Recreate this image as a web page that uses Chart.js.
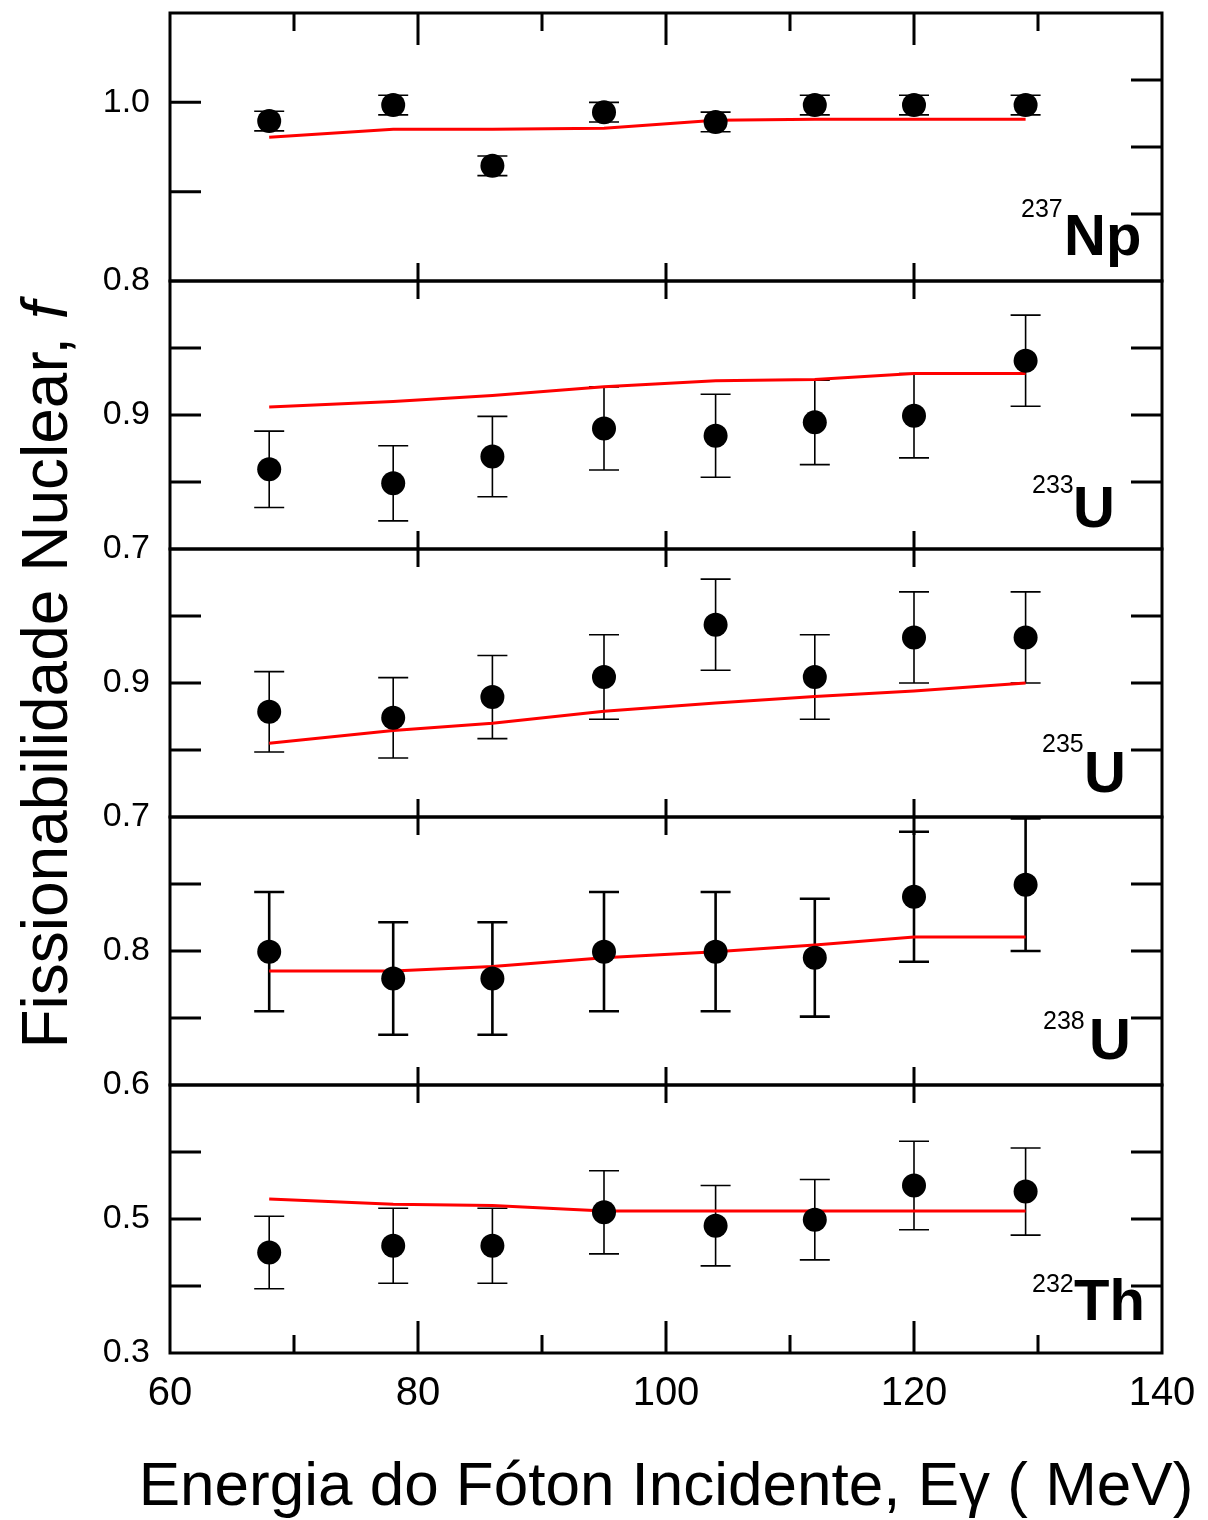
<!DOCTYPE html>
<html>
<head>
<meta charset="utf-8">
<script src="https://cdn.jsdelivr.net/npm/chart.js@4.4.0/dist/chart.umd.min.js"></script>
<style>
  html, body { margin:0; padding:0; background:#fff; }
  #wrap { position:relative; width:1208px; height:1520px; overflow:hidden;
          font-family:"Liberation Sans", Arial, sans-serif; color:#000; }
  #wrap canvas { position:absolute; left:0; }
  .tag { position:absolute; white-space:nowrap; line-height:1; z-index:5; }
  .num { font-size:25px; }
  .sym { font-size:58px; font-weight:bold; }
  #xTitle { position:absolute; left:666px; top:1453px; transform:translateX(-50%);
            font-size:62px; line-height:1; white-space:nowrap; }
  #yTitle { position:absolute; left:-405px; top:643px; width:900px; height:64px;
            text-align:center; font-size:64px; line-height:1; white-space:nowrap;
            transform:rotate(-90deg); }
</style>
</head>
<body>
<div id="wrap">
  <div id="yTitle">Fissionabilidade Nuclear, <i>f</i></div>
  <div id="xTitle">Energia do Fóton Incidente, Eγ ( MeV)</div>

  <div class="tag num" style="left:1021px;top:196px">237</div><div class="tag sym" style="left:1064px;top:206px">Np</div>
  <div class="tag num" style="left:1032px;top:472px">233</div><div class="tag sym" style="left:1073px;top:478px">U</div>
  <div class="tag num" style="left:1042px;top:731px">235</div><div class="tag sym" style="left:1084px;top:743px">U</div>
  <div class="tag num" style="left:1043px;top:1008px">238</div><div class="tag sym" style="left:1089px;top:1010px">U</div>
  <div class="tag num" style="left:1032px;top:1271px">232</div><div class="tag sym" style="left:1074px;top:1271px">Th</div>
</div>
<script>
// ---------- DATA ----------
const energies = [68, 78, 86, 95, 104, 112, 120, 129];   // MeV

const np237     = [0.979, 0.997, 0.929, 0.989, 0.978, 0.997, 0.997, 0.997];
const np237Err  = [0.011, 0.011, 0.011, 0.011, 0.011, 0.011, 0.011, 0.011];
const np237Calc = [0.961, 0.970, 0.970, 0.971, 0.980, 0.981, 0.981, 0.981];

const u233      = [0.819, 0.798, 0.838, 0.880, 0.869, 0.889, 0.899, 0.981];
const u233Err   = [0.057, 0.056, 0.060, 0.062, 0.062, 0.063, 0.063, 0.068];
const u233Calc  = [0.912, 0.920, 0.929, 0.942, 0.951, 0.953, 0.962, 0.962];

const u235      = [0.857, 0.848, 0.879, 0.909, 0.987, 0.909, 0.968, 0.968];
const u235Err   = [0.060, 0.060, 0.062, 0.063, 0.068, 0.063, 0.068, 0.068];
const u235Calc  = [0.810, 0.829, 0.840, 0.858, 0.870, 0.880, 0.888, 0.900];

const u238      = [0.799, 0.759, 0.759, 0.799, 0.799, 0.790, 0.881, 0.899];
const u238Err   = [0.089, 0.084, 0.084, 0.089, 0.089, 0.088, 0.097, 0.099];
const u238Calc  = [0.770, 0.770, 0.777, 0.790, 0.799, 0.809, 0.821, 0.821];

const th232     = [0.450, 0.460, 0.460, 0.510, 0.490, 0.499, 0.550, 0.541];
const th232Err  = [0.054, 0.056, 0.056, 0.062, 0.060, 0.060, 0.066, 0.065];
const th232Calc = [0.530, 0.522, 0.520, 0.512, 0.512, 0.512, 0.512, 0.512];

// tick values
const xMajor = [60, 80, 100, 120, 140];
const xMinor = [70, 90, 110, 130];
const npYLabels   = [0.8, 1.0];
const u233YLabels = [0.7, 0.9];
const u235YLabels = [0.7, 0.9];
const u238YLabels = [0.6, 0.8];
const th232YLabels = [0.3, 0.5];

// ---------- LAYOUT ----------
const FONT = '"Liberation Sans", Arial, sans-serif';
const PANEL_TOP = 13, PANEL_H = 268;
const PAD_T = 40, PAD_B = 40, X_AXIS_H = 90;
const CAP = 15, Y_TICK = 31, X_LONG = 32, X_SHORT = 18;

const panels = [
  { vals:np237, errs:np237Err, calc:np237Calc, min:0.8, max:1.1, labels:npYLabels,  bar:1.6, right:4 },
  { vals:u233,  errs:u233Err,  calc:u233Calc,  min:0.7, max:1.1, labels:u233YLabels, bar:1.6 },
  { vals:u235,  errs:u235Err,  calc:u235Calc,  min:0.7, max:1.1, labels:u235YLabels, bar:1.6 },
  { vals:u238,  errs:u238Err,  calc:u238Calc,  min:0.6, max:1.0, labels:u238YLabels, bar:2.6 },
  { vals:th232, errs:th232Err, calc:th232Calc, min:0.3, max:0.7, labels:th232YLabels, bar:1.6 }
];

// error bars + inward ticks + frame
const framePlugin = {
  id: 'frame',
  beforeDatasetsDraw(chart) {
    const { ctx, scales: { x, y } } = chart;
    const ds = chart.data.datasets[0];
    ctx.save();
    ctx.strokeStyle = '#000';
    ctx.lineWidth = ds.errWidth;
    ds.data.forEach((pt, k) => {
      const px = x.getPixelForValue(pt.x);
      const hi = y.getPixelForValue(pt.y + ds.errors[k]);
      const lo = y.getPixelForValue(pt.y - ds.errors[k]);
      ctx.beginPath();
      ctx.moveTo(px, hi); ctx.lineTo(px, lo);
      ctx.moveTo(px - CAP, hi); ctx.lineTo(px + CAP, hi);
      ctx.moveTo(px - CAP, lo); ctx.lineTo(px + CAP, lo);
      ctx.stroke();
    });
    ctx.restore();
  },
  afterDraw(chart, args, o) {
    const { ctx, chartArea: a, scales: { x, y } } = chart;
    ctx.save();
    ctx.strokeStyle = '#000';
    ctx.lineWidth = 3;
    ctx.beginPath();
    ctx.rect(a.left, a.top, a.right - a.left, a.bottom - a.top);
    // left ticks
    y.ticks.forEach(t => {
      const py = y.getPixelForValue(t.value);
      ctx.moveTo(a.left, py); ctx.lineTo(a.left + Y_TICK, py);
    });
    // right ticks
    if (o.right) {
      const r = chart.scales.y2;
      for (let v = 0; v <= o.right; v++) {
        const py = r.getPixelForValue(v);
        ctx.moveTo(a.right, py); ctx.lineTo(a.right - Y_TICK, py);
      }
    } else {
      y.ticks.forEach(t => {
        const py = y.getPixelForValue(t.value);
        ctx.moveTo(a.right, py); ctx.lineTo(a.right - Y_TICK, py);
      });
    }
    // x ticks on top and bottom edges
    const edge = (ey, dir, full) => {
      xMajor.forEach(v => {
        const px = x.getPixelForValue(v);
        ctx.moveTo(px, ey); ctx.lineTo(px, ey + dir * (full ? X_LONG : X_SHORT));
      });
      if (full) xMinor.forEach(v => {
        const px = x.getPixelForValue(v);
        ctx.moveTo(px, ey); ctx.lineTo(px, ey + dir * X_SHORT);
      });
    };
    edge(a.top, 1, o.topFull);
    edge(a.bottom, -1, o.bottomFull);
    ctx.stroke();
    ctx.restore();
  }
};

const wrap = document.getElementById('wrap');

panels.forEach((p, i) => {
  const last = i === panels.length - 1;
  // the bottom canvas is a bit wider so the "140" label does not squeeze the plot area
  const extra = last ? 12 : 0;
  const canvas = document.createElement('canvas');
  canvas.width = 1208 + extra;
  canvas.height = PAD_T + PANEL_H + (last ? X_AXIS_H : PAD_B);
  canvas.style.top = (PANEL_TOP + i * PANEL_H - PAD_T) + 'px';
  wrap.appendChild(canvas);

  const scales = {
    x: {
      type: 'linear', min: 60, max: 140, position: 'bottom', display: last,
      grid: { display: false }, border: { display: false },
      ticks: { stepSize: 20, autoSkip: false, maxRotation: 0, padding: 9,
               color: '#000', font: { family: FONT, size: 40 } }
    },
    y: {
      type: 'linear', min: p.min, max: p.max, position: 'left',
      grid: { display: false }, border: { display: false },
      ticks: { stepSize: 0.1, autoSkip: false, padding: 12, color: '#000',
               font: { family: FONT, size: 34 },
               callback: v => p.labels.some(l => Math.abs(l - v) < 1e-6) ? v.toFixed(1) : '' },
      afterFit: s => { s.width = 170; }
    }
  };
  if (last) scales.x.afterFit = s => { s.height = X_AXIS_H; };
  if (p.right) scales.y2 = { type: 'linear', position: 'right', display: false, min: 0, max: p.right };

  new Chart(canvas, {
    type: 'line',
    data: {
      datasets: [
        {
          data: energies.map((e, k) => ({ x: e, y: p.vals[k] })),
          errors: p.errs, errWidth: p.bar,
          showLine: false, pointRadius: 12, pointHoverRadius: 12,
          pointBackgroundColor: '#000', pointBorderColor: '#000', pointBorderWidth: 0
        },
        {
          data: energies.map((e, k) => ({ x: e, y: p.calc[k] })),
          borderColor: '#ff0000', borderWidth: 3, pointRadius: 0, tension: 0, fill: false
        }
      ]
    },
    options: {
      responsive: false, animation: false, events: [],
      layout: { padding: { left: 0, right: 46 + extra, top: PAD_T, bottom: last ? 0 : PAD_B } },
      scales,
      plugins: {
        legend: { display: false }, tooltip: { enabled: false },
        frame: { right: p.right || 0, topFull: i === 0, bottomFull: last }
      }
    },
    plugins: [framePlugin]
  });
});
</script>
</body>
</html>
